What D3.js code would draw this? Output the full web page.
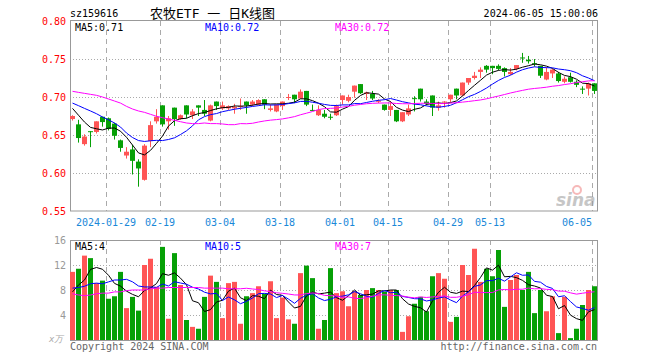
<!DOCTYPE html>
<html>
<head>
<meta charset="utf-8">
<title>农牧ETF 日K线图</title>
<style>
  body { margin: 0; background: #fff; }
  svg { display: block; }
  text { font-family: "DejaVu Sans Mono", monospace; font-size: 10px; }
</style>
</head>
<body>
<div id="chart"></div>
<script src="https://cdn.jsdelivr.net/npm/d3@7"></script>
<script>

// trading days shown, 2024-01-19 .. 2024-06-05
var dates = ["01-19","01-22","01-23","01-24","01-25","01-26","01-29","01-30","01-31",
  "02-01","02-02","02-05","02-06","02-07","02-08","02-19","02-20","02-21","02-22","02-23","02-26","02-27","02-28","02-29",
  "03-01","03-04","03-05","03-06","03-07","03-08","03-11","03-12","03-13","03-14","03-15","03-18","03-19","03-20","03-21","03-22","03-25","03-26","03-27","03-28","03-29",
  "04-01","04-02","04-03","04-08","04-09","04-10","04-11","04-12","04-15","04-16","04-17","04-18","04-19","04-22","04-23","04-24","04-25","04-26","04-29","04-30",
  "05-06","05-07","05-08","05-09","05-10","05-13","05-14","05-15","05-16","05-17","05-20","05-21","05-22","05-23","05-24","05-27","05-28","05-29","05-30","05-31",
  "06-03","06-04","06-05"];

var open  = [0.671,0.664,0.638,0.655,0.654,0.674,0.672,0.665,0.643,0.623,0.631,0.615,0.591,0.642,0.668,0.689,0.668,0.686,0.671,0.689,0.676,0.689,0.683,0.669,0.694,0.685,0.685,0.685,0.687,0.694,0.690,0.690,0.697,0.683,0.681,0.688,0.699,0.703,0.698,0.708,0.683,0.676,0.678,0.674,0.676,0.696,0.695,0.707,0.717,0.704,0.704,0.694,0.690,0.683,0.683,0.668,0.677,0.6985,0.711,0.694,0.702,0.686,0.6935,0.697,0.711,0.702,0.719,0.725,0.733,0.741,0.741,0.741,0.738,0.730,0.737,0.752,0.749,0.7445,0.741,0.723,0.731,0.731,0.720,0.726,0.720,0.711,0.711,0.718];
var high  = [0.676,0.670,0.651,0.655,0.668,0.674,0.673,0.666,0.644,0.634,0.637,0.618,0.638,0.668,0.684,0.689,0.675,0.686,0.677,0.689,0.684,0.689,0.696,0.690,0.694,0.694,0.689,0.691,0.698,0.694,0.696,0.697,0.697,0.690,0.690,0.694,0.704,0.703,0.710,0.708,0.690,0.689,0.683,0.678,0.690,0.702,0.703,0.715,0.717,0.707,0.708,0.697,0.690,0.694,0.683,0.680,0.690,0.701,0.711,0.697,0.702,0.694,0.6945,0.703,0.711,0.719,0.725,0.733,0.739,0.742,0.741,0.743,0.739,0.738,0.742,0.758,0.754,0.750,0.741,0.739,0.737,0.733,0.727,0.732,0.722,0.714,0.719,0.718];
var low   = [0.669,0.640,0.636,0.634,0.652,0.661,0.656,0.644,0.628,0.619,0.598,0.582,0.590,0.634,0.665,0.661,0.657,0.662,0.670,0.672,0.671,0.675,0.675,0.668,0.683,0.683,0.683,0.678,0.683,0.678,0.688,0.689,0.684,0.681,0.680,0.683,0.696,0.692,0.698,0.688,0.682,0.675,0.672,0.670,0.675,0.690,0.693,0.699,0.704,0.696,0.696,0.692,0.682,0.675,0.667,0.667,0.675,0.681,0.694,0.689,0.675,0.682,0.686,0.693,0.697,0.701,0.716,0.723,0.725,0.732,0.730,0.735,0.727,0.729,0.735,0.745,0.744,0.740,0.725,0.722,0.725,0.719,0.718,0.719,0.713,0.704,0.702,0.704];
var close = [0.675,0.646,0.648,0.654,0.668,0.667,0.658,0.649,0.633,0.628,0.616,0.606,0.636,0.663,0.674,0.664,0.672,0.671,0.676,0.677,0.681,0.686,0.678,0.689,0.688,0.689,0.688,0.687,0.688,0.689,0.694,0.696,0.690,0.685,0.690,0.694,0.700,0.697,0.707,0.690,0.682,0.683,0.674,0.673,0.688,0.702,0.700,0.715,0.705,0.706,0.698,0.695,0.683,0.688,0.668,0.680,0.685,0.698,0.697,0.691,0.686,0.689,0.694,0.703,0.702,0.719,0.725,0.728,0.736,0.736,0.738,0.737,0.733,0.733,0.742,0.751,0.747,0.744,0.728,0.733,0.736,0.721,0.724,0.720,0.716,0.710,0.718,0.708];

// volume, in 万
var volume = [10.9,11.4,13.5,13.1,9.1,9.5,6.6,7.0,10.9,5.1,6.9,4.7,12.0,13.0,8.5,14.9,3.4,13.9,8.8,3.2,2.1,1.8,6.9,10.3,9.3,3.5,9.1,9.3,2.6,7.0,7.5,8.6,7.4,9.4,3.5,6.8,3.3,2.6,10.7,11.9,9.9,1.8,3.2,11.5,
  7.5,7.8,5.4,7.8,7.2,8.0,8.3,8.0,7.7,8.0,8.0,1.3,3.8,5.8,6.9,4.6,10.2,10.7,9.8,2.9,3.7,12.0,10.4,14.6,9.3,11.4,10.2,14.4,5.3,9.6,10.4,8.0,10.9,4.3,8.0,4.6,7.0,1.1,6.9,0.3,1.8,5.6,8.0,8.6];

// moving-average values before enough history is on screen
var ma5Head  = [0.685,0.676,0.667,0.660];
var ma10Head = [0.692,0.6886,0.685,0.6816,0.678,0.6737,0.670,0.6658,0.6605];
var ma30Head = [0.7075,0.7061,0.7048,0.7035,0.7022,0.700,0.6974,0.6947,0.692,0.6877,0.6842,0.6816,0.6798,0.6772,0.6746,0.6728,0.671,0.6693,0.6675,0.6658,0.665,0.665,0.6658,0.665,0.665,0.6645,0.6636,0.6636,0.665];
var vma5Head  = [7.7,8.8,9.6,11.3];
var vma10Head = [8.3,8.4,8.6,9.0,9.1,9.0,9.3,9.6,9.6];
var vma30Head = [7.4,7.2,7.1,7.2,7.4,7.5,7.5,7.7,7.7,7.9,8.0,8.0,8.0,8.2,8.3,8.3,8.4,8.4,8.4,8.4,8.4,8.4,8.3,8.3,8.3,8.3,8.2,8.2,8.2];

var tickDates  = ["01-29","02-19","03-04","03-18","04-01","04-15","04-29","05-13","06-05"];
var tickLabels = ["2024-01-29","02-19","03-04","03-18","04-01","04-15","04-29","05-13","06-05"];
var priceTicks = [0.80,0.75,0.70,0.65,0.60,0.55];
var volTicks   = [16,12,8,4];

var maLabels  = ["MA5:0.71","MA10:0.72","MA30:0.72"];
var vmaLabels = ["MA5:4","MA10:5","MA30:7"];
var maColors  = ["#000","#0000ff","#ff00ff"];

var width = 660, height = 360;
var up = "#ff5555", down = "#06a006";

var svg = d3.select("#chart").append("svg")
    .attr("width", width)
    .attr("height", height);

var x = d3.scaleBand()
    .domain(d3.range(dates.length))
    .range([70, 597])
    .paddingInner(1 / 6)
    .paddingOuter(0)
    .align(0);

var y = d3.scaleLinear().domain([0.55, 0.80]).range([211, 21]);
var yv = d3.scaleLinear().domain([0, 16]).range([340, 240]);

function movingAvg(arr, n, head) {
  return arr.map(function(d, i) {
    if (i < n - 1) return head[i];
    return d3.mean(arr.slice(i - n + 1, i + 1));
  });
}

var ma5 = movingAvg(close, 5, ma5Head),
    ma10 = movingAvg(close, 10, ma10Head),
    ma30 = movingAvg(close, 30, ma30Head);
var vma5 = movingAvg(volume, 5, vma5Head),
    vma10 = movingAvg(volume, 10, vma10Head),
    vma30 = movingAvg(volume, 30, vma30Head);

var cx = function(i) { return Math.floor(x(i) + x.bandwidth() / 2) + 0.5; };
var tickIdx = tickDates.map(function(d) { return dates.indexOf(d); });

// header
svg.append("text").attr("x", 70).attr("y", 17).attr("fill", "#000").text("sz159616");
svg.append("text").attr("x", 150).attr("y", 18)
    .style("font-family", "'DejaVu Sans Mono', 'Noto Sans CJK SC', sans-serif").style("font-size", "13px")
    .attr("fill", "#000").attr("xml:space", "preserve")
    .text("农牧ETF 一 日K线图");
svg.append("text").attr("x", 598).attr("y", 17).attr("text-anchor", "end")
    .attr("fill", "#000").text("2024-06-05 15:00:06");

// grids
var grid = svg.append("g");
grid.selectAll("line.hp").data(priceTicks.slice(1, -1)).enter().append("line")
    .attr("x1", 70).attr("x2", 597)
    .attr("y1", function(d) { return Math.round(y(d)) + 0.5; })
    .attr("y2", function(d) { return Math.round(y(d)) + 0.5; })
    .attr("stroke", "#aaa").attr("stroke-dasharray", "1,2");
grid.selectAll("line.hv").data(volTicks.slice(1)).enter().append("line")
    .attr("x1", 70).attr("x2", 597)
    .attr("y1", function(d) { return Math.round(yv(d)) + 0.5; })
    .attr("y2", function(d) { return Math.round(yv(d)) + 0.5; })
    .attr("stroke", "#aaa").attr("stroke-dasharray", "1,2");
[[21, 211], [240, 340]].forEach(function(r) {
  grid.selectAll(null).data(tickIdx).enter().append("line")
      .attr("x1", function(i) { return Math.round(x(i)) + 0.5; })
      .attr("x2", function(i) { return Math.round(x(i)) + 0.5; })
      .attr("y1", r[0]).attr("y2", r[1])
      .attr("stroke", "#aaa").attr("stroke-dasharray", "5,4");
});

// sina watermark
var wm = svg.append("g").attr("opacity", 0.55);
wm.append("circle").attr("cx", 577).attr("cy", 190).attr("r", 4)
    .attr("fill", "none").attr("stroke", "#f08080").attr("stroke-width", 2);
wm.append("text").attr("x", 556).attr("y", 206)
    .style("font-family", "'DejaVu Sans', sans-serif").style("font-size", "17px")
    .style("font-style", "italic").style("font-weight", "bold")
    .attr("fill", "#999").text("sina");

// borders
svg.append("rect").attr("x", 70.5).attr("y", 20.5).attr("width", 527).attr("height", 190.5)
    .attr("fill", "none").attr("stroke", "#999");
svg.append("rect").attr("x", 70.5).attr("y", 240.5).attr("width", 527).attr("height", 100)
    .attr("fill", "none").attr("stroke", "#999");

// candles
var candles = svg.append("g").selectAll("g").data(dates).enter().append("g")
    .attr("fill", function(d, i) { return close[i] >= open[i] ? up : down; })
    .attr("stroke", function(d, i) { return close[i] >= open[i] ? up : down; });
candles.append("line")
    .attr("x1", function(d, i) { return cx(i); })
    .attr("x2", function(d, i) { return cx(i); })
    .attr("y1", function(d, i) { return y(high[i]); })
    .attr("y2", function(d, i) { return y(low[i]); });
candles.append("rect")
    .attr("stroke", "none")
    .attr("x", function(d, i) { return Math.round(x(i)); })
    .attr("width", 5)
    .attr("y", function(d, i) { return y(Math.max(open[i], close[i])); })
    .attr("height", function(d, i) { return Math.max(1, Math.abs(y(open[i]) - y(close[i]))); });

// volume bars
svg.append("g").selectAll("rect").data(volume).enter().append("rect")
    .attr("x", function(d, i) { return Math.round(x(i)); })
    .attr("width", 5)
    .attr("y", function(d) { return yv(d); })
    .attr("height", function(d) { return 340 - yv(d); })
    .attr("fill", function(d, i) { return close[i] >= open[i] ? up : down; });

// moving averages
var line = d3.line().x(function(d, i) { return cx(i); });
[ma5, ma10, ma30].forEach(function(s, k) {
  svg.append("path").datum(s)
      .attr("d", line.y(function(d) { return y(d); }))
      .attr("fill", "none").attr("stroke", maColors[k]).attr("stroke-width", 1);
});
[vma5, vma10, vma30].forEach(function(s, k) {
  svg.append("path").datum(s)
      .attr("d", line.y(function(d) { return yv(d); }))
      .attr("fill", "none").attr("stroke", maColors[k]).attr("stroke-width", 1);
});

// legends
var legX = [75, 205, 335];
maLabels.forEach(function(t, k) {
  svg.append("text").attr("x", legX[k]).attr("y", 31).attr("fill", maColors[k]).text(t);
});
vmaLabels.forEach(function(t, k) {
  svg.append("text").attr("x", legX[k]).attr("y", 250).attr("fill", maColors[k]).text(t);
});

// axes labels
svg.append("g").selectAll("text").data(priceTicks).enter().append("text")
    .attr("x", 66).attr("y", function(d) { return y(d) + 4; })
    .attr("text-anchor", "end").attr("fill", "#ff0000")
    .text(function(d) { return d.toFixed(2); });
svg.append("g").selectAll("text").data(volTicks).enter().append("text")
    .attr("x", 66).attr("y", function(d) { return yv(d) + 4; })
    .attr("text-anchor", "end").attr("fill", "#999")
    .text(function(d) { return d; });
svg.append("text").attr("x", 49).attr("y", 342).attr("fill", "#aaa")
    .style("font-style", "italic").style("font-size", "9px").text("x万");

svg.append("g").selectAll("text").data(tickIdx).enter().append("text")
    .attr("x", function(i, k) {
      var w = tickLabels[k].length * 6.02;
      var c = Math.round(x(i));
      return Math.min(c, 592 - w / 2);
    })
    .attr("y", 226)
    .attr("text-anchor", "middle").attr("fill", "#1a88d8")
    .text(function(i, k) { return tickLabels[k]; });

// footer
svg.append("text").attr("x", 70).attr("y", 350).attr("fill", "#666").text("Copyright 2024 SINA.COM");
svg.append("text").attr("x", 597).attr("y", 350).attr("text-anchor", "end")
    .attr("fill", "#666").text("http://finance.sina.com.cn");

</script>
</body>
</html>
